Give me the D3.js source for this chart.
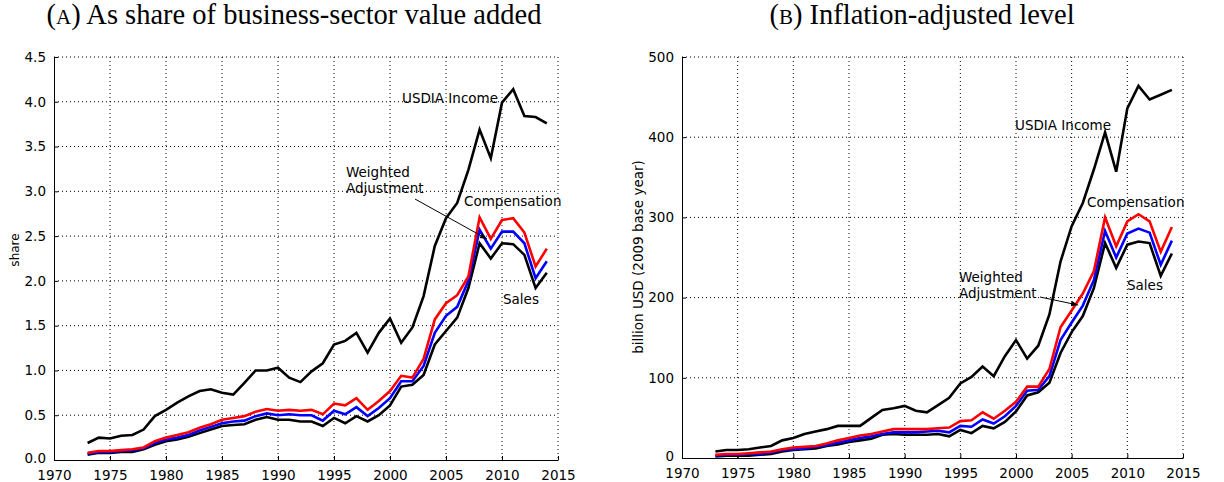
<!DOCTYPE html>
<html>
<head>
<meta charset="utf-8">
<script src="https://cdn.jsdelivr.net/npm/d3@7"></script>
<style>
  body { margin: 0; background: #fff; }
  svg text { font-family: "DejaVu Sans", sans-serif; }
  .title { font-family: "Liberation Serif", "DejaVu Serif", serif; }
</style>
</head>
<body>
<svg id="chart" width="1224" height="482"></svg>
<script>
// years 1973..2014
var years = d3.range(1973, 2015);

// panel A: share of business-sector value added
var shareIncome = [0.19,0.25,0.24,0.27,0.28,0.34,0.49,0.56,0.64,0.71,0.77,0.79,0.75,0.73,0.86,1.00,1.00,1.03,0.92,0.87,0.99,1.08,1.29,1.33,1.42,1.20,1.42,1.58,1.31,1.48,1.83,2.39,2.70,2.87,3.24,3.69,3.37,3.99,4.14,3.84,3.83,3.76];
var shareComp = [0.08,0.10,0.10,0.11,0.12,0.14,0.21,0.25,0.28,0.31,0.36,0.40,0.45,0.47,0.49,0.54,0.57,0.55,0.56,0.55,0.56,0.51,0.63,0.61,0.69,0.56,0.66,0.77,0.94,0.92,1.13,1.57,1.75,1.84,2.05,2.71,2.47,2.68,2.70,2.54,2.16,2.36];
var shareWeighted = [0.07,0.09,0.09,0.10,0.11,0.13,0.19,0.23,0.25,0.28,0.33,0.37,0.41,0.43,0.44,0.49,0.52,0.50,0.51,0.50,0.50,0.44,0.55,0.51,0.59,0.49,0.58,0.69,0.88,0.88,1.05,1.42,1.61,1.71,2.00,2.57,2.36,2.55,2.55,2.42,2.03,2.22];
var shareSales = [0.06,0.08,0.08,0.09,0.09,0.12,0.17,0.21,0.23,0.26,0.30,0.34,0.38,0.39,0.40,0.45,0.48,0.45,0.45,0.43,0.43,0.38,0.47,0.41,0.49,0.43,0.50,0.61,0.82,0.84,0.95,1.29,1.44,1.59,1.92,2.42,2.25,2.42,2.41,2.29,1.92,2.09];

// panel B: billion USD, 2009 base year
var levelIncome = [8,10,10,11,13,15,22,25,30,33,36,40,40,40,50,60,62,65,59,57,66,75,93,101,114,102,127,147,124,140,179,245,289,318,360,406,357,436,464,447,453,459];
var levelComp = [4,5,5,6,7,8,11,13,14,15,18,22,25,28,30,33,36,36,36,36,37,38,46,47,57,49,59,70,89,89,111,163,184,205,233,300,264,295,304,295,257,288];
var levelWeighted = [3,4,4,5,5,7,10,11,12,14,16,19,22,25,27,30,32,32,32,33,34,32,40,39,48,43,52,65,84,85,102,147,169,190,222,283,250,280,286,281,241,271];
var levelSales = [2,3,3,3,4,5,8,10,11,12,15,17,20,22,24,29,30,29,29,29,30,27,35,31,40,37,45,58,78,82,94,131,157,177,212,268,237,266,270,268,227,255];

var xTicks = [1970,1975,1980,1985,1990,1995,2000,2005,2010,2015];
var yTicksA = [0,0.5,1,1.5,2,2.5,3,3.5,4,4.5];
var yTicksB = [0,100,200,300,400,500];

var svg = d3.select("#chart");

svg.append("defs").append("marker")
    .attr("id", "arrow")
    .attr("viewBox", "0 0 10 10")
    .attr("refX", 10).attr("refY", 5)
    .attr("markerWidth", 7).attr("markerHeight", 7)
    .attr("orient", "auto")
  .append("path")
    .attr("d", "M0,1 L10,5 L0,9 Z")
    .attr("fill", "#000");

function drawPanel(cfg) {
    var x = d3.scaleLinear().domain([1970, 2015]).range([cfg.left, cfg.right]);
    var y = d3.scaleLinear().domain(cfg.yDomain).range([cfg.bottom, cfg.top]);
    var g = svg.append("g");

    // grid
    g.selectAll(".gx").data(xTicks.slice(1)).enter().append("line")
        .attr("x1", function(d) { return x(d); }).attr("x2", function(d) { return x(d); })
        .attr("y1", cfg.top).attr("y2", cfg.bottom)
        .attr("stroke", "#000").attr("stroke-width", 1).attr("stroke-dasharray", "1,3");
    g.selectAll(".gy").data(cfg.yTicks.slice(1)).enter().append("line")
        .attr("x1", cfg.left).attr("x2", cfg.right)
        .attr("y1", function(d) { return y(d); }).attr("y2", function(d) { return y(d); })
        .attr("stroke", "#000").attr("stroke-width", 1).attr("stroke-dasharray", "1,3");

    // axes
    var xAxis = d3.axisBottom(x).tickValues(xTicks).tickFormat(d3.format("d"))
        .tickSizeInner(-4).tickSizeOuter(0).tickPadding(10);
    var gx = g.append("g").attr("transform", "translate(0," + cfg.bottom + ")").call(xAxis);
    var yAxis = d3.axisLeft(y).tickValues(cfg.yTicks).tickFormat(cfg.yFormat)
        .tickSizeInner(-4).tickSizeOuter(0).tickPadding(8);
    var gy = g.append("g").attr("transform", "translate(" + cfg.left + ",0)").call(yAxis);
    [gx, gy].forEach(function(a) {
        a.selectAll("text").attr("font-size", 13.5).attr("fill", "#000")
            .attr("font-family", "DejaVu Sans");
        a.selectAll("line").attr("stroke", "#000");
        a.select(".domain").attr("stroke", "#000").attr("stroke-width", 1);
    });
    // lowest y label sits a little higher, as in the original
    gy.selectAll(".tick text").filter(function(d) { return d === 0; }).attr("dy", "0.2em");

    // y label
    g.append("text")
        .attr("transform", "translate(" + cfg.yLabelX + "," + cfg.yLabelY + ") rotate(-90)")
        .attr("text-anchor", "middle").attr("font-size", cfg.yLabelSize)
        .text(cfg.yLabel);

    // title
    var t = g.append("text").attr("class", "title")
        .attr("x", cfg.titleX).attr("y", 24)
        .attr("text-anchor", "middle").attr("font-size", 28.5);
    t.append("tspan").text("(");
    t.append("tspan").attr("font-size", 21).text(cfg.letter);
    t.append("tspan").text(") " + cfg.title);

    // lines
    var line = d3.line()
        .x(function(d, i) { return x(years[i]); })
        .y(function(d) { return y(d); });
    cfg.series.forEach(function(s) {
        g.append("path").datum(s.values)
            .attr("d", line)
            .attr("fill", "none")
            .attr("stroke", s.color)
            .attr("stroke-width", 2.6)
            .attr("stroke-linejoin", "miter");
    });

    // annotations
    cfg.labels.forEach(function(l) {
        var tx = g.append("text").attr("font-size", 13.5).attr("x", l.x).attr("y", l.y);
        l.text.forEach(function(s, i) {
            tx.append("tspan").attr("x", l.x).attr("dy", i === 0 ? 0 : 16).text(s);
        });
    });
    g.append("line")
        .attr("x1", cfg.arrow[0]).attr("y1", cfg.arrow[1])
        .attr("x2", cfg.arrow[2]).attr("y2", cfg.arrow[3])
        .attr("stroke", "#000").attr("stroke-width", 1)
        .attr("marker-end", "url(#arrow)");
}

drawPanel({
    left: 54, right: 558, top: 57, bottom: 460,
    yDomain: [0, 4.5], yTicks: yTicksA, yFormat: d3.format(".1f"),
    yLabel: "share", yLabelX: 19, yLabelY: 250, yLabelSize: 12,
    titleX: 294,
    letter: "A", title: "As share of business-sector value added",
    series: [
        { values: shareIncome, color: "#000" },
        { values: shareSales, color: "#000" },
        { values: shareWeighted, color: "#0000ff" },
        { values: shareComp, color: "#ff0000" }
    ],
    labels: [
        { x: 402, y: 103, text: ["USDIA Income"] },
        { x: 346, y: 177, text: ["Weighted", "Adjustment"] },
        { x: 464, y: 206, text: ["Compensation"] },
        { x: 503, y: 304, text: ["Sales"] }
    ],
    arrow: [415, 199, 487, 239]
});

drawPanel({
    left: 682, right: 1183, top: 57, bottom: 458,
    yDomain: [0, 500], yTicks: yTicksB, yFormat: d3.format("d"),
    yLabel: "billion USD (2009 base year)", yLabelX: 643, yLabelY: 257, yLabelSize: 13.5,
    titleX: 922,
    letter: "B", title: "Inflation-adjusted level",
    series: [
        { values: levelIncome, color: "#000" },
        { values: levelSales, color: "#000" },
        { values: levelWeighted, color: "#0000ff" },
        { values: levelComp, color: "#ff0000" }
    ],
    labels: [
        { x: 1015, y: 130, text: ["USDIA Income"] },
        { x: 1087, y: 207, text: ["Compensation"] },
        { x: 959, y: 282, text: ["Weighted", "Adjustment"] },
        { x: 1127, y: 290, text: ["Sales"] }
    ],
    arrow: [1040, 297, 1078, 305]
});
</script>
</body>
</html>
